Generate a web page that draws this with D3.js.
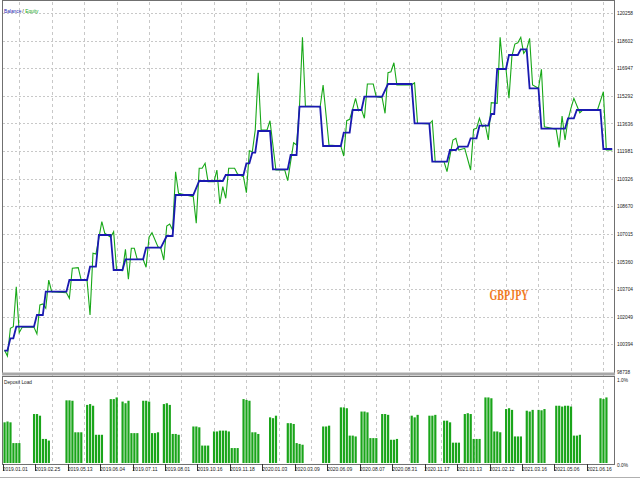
<!DOCTYPE html>
<html>
<head>
<meta charset="utf-8">
<script src="https://cdn.jsdelivr.net/npm/d3@7"></script>
<style>
  body { margin: 0; background: #fff; }
  text { font-family: "Liberation Sans", Arial, sans-serif; }
</style>
</head>
<body>
<div id="plot"></div>
<script>
// y axis labels of the balance / equity panel
const priceTicks = [120258, 118602, 116947, 115292, 113636, 111981, 110326,
  108670, 107015, 105360, 103704, 102049, 100394, 98738];

// date labels, one every 11 bars starting at bar 5
const dateLabels = ["2019.01.01", "2019.02.25", "2019.05.13", "2019.06.04", "2019.07.11",
  "2019.08.01", "2019.10.16", "2019.11.18", "2020.01.03", "2020.03.09", "2020.06.09",
  "2020.08.07", "2020.08.31", "2020.11.17", "2021.01.13", "2021.02.12", "2021.03.16",
  "2021.05.06", "2021.06.16"];
const firstDateBar = 5;
const barsPerDate = 11;

// [bar, balance]
const balance = [[0,100015],[1,100015],[2,100758],[3,100758],[4,101453],[10,101453],
  [11,102155],[13,102155],[14,103551],[21,103551],[22,104252],[28,104252],[29,105050],
  [31,105050],[32,106950],[36,106950],[37,104852],[40,104852],[41,105493],[47,105493],
  [48,106189],[53,106189],[55,106890],[57,106890],[58,109347],[64,109347],[66,110187],
  [74,110187],[75,110546],[81,110546],[82,111248],[83,111248],[84,111883],[85,111883],
  [86,113184],[90,113184],[91,110888],[96,110888],[97,111745],[99,111745],[100,114640],
  [107,114640],[108,112284],[114,112284],[115,113082],[117,113082],[118,114442],
  [121,114442],[122,115240],[128,115240],[130,116001],[138,116001],[139,113645],
  [144,113645],[145,111343],[150,111343],[151,112045],[153,112045],[154,112243],
  [157,112243],[158,112746],[160,112746],[161,113501],[164,113501],[165,114203],
  [166,114203],[167,116900],[170,116900],[171,117739],[174,117739],[175,118081],
  [177,118081],[178,115743],[181,115743],[182,113322],[190,113322],[191,113945],
  [193,113945],[194,114442],[202,114442],[203,112105],[206,112105]];

// [bar, equity]
const equity = [[0,100057],[1,99697],[2,101357],[3,101453],[4,103851],[5,101094],
  [6,101417],[10,101417],[11,101016],[12,102754],[13,102814],[14,102556],[15,104252],
  [16,103551],[21,103491],[22,103156],[23,104954],[25,104990],[26,104252],[28,104211],
  [29,102155],[30,105853],[31,105811],[33,107747],[34,107052],[36,106812],[37,107148],
  [38,104852],[40,104810],[41,106093],[42,104294],[43,106153],[44,106153],[45,105493],
  [47,105493],[48,105014],[49,106812],[50,107088],[52,106249],[53,106153],[54,105451],
  [55,107489],[56,107609],[57,107249],[58,110744],[59,109449],[64,109246],[65,107651],
  [66,110948],[67,110948],[68,111248],[69,110145],[71,110145],[72,110846],[73,108808],
  [74,109845],[75,109150],[76,110948],[78,110948],[79,110606],[81,110444],[82,109485],
  [83,112003],[84,111943],[85,113243],[86,116678],[87,113243],[89,113243],[90,113801],
  [92,110846],[95,110846],[96,110205],[98,112482],[99,112344],[100,114682],[101,118800],
  [102,114682],[107,114640],[108,115941],[110,112344],[114,112284],[115,111685],
  [116,113801],[117,113885],[118,114484],[119,115144],[120,114400],[121,114484],
  [122,113945],[123,116001],[125,116001],[126,115240],[128,115180],[129,114244],
  [130,116678],[131,116738],[132,117278],[133,115941],[138,115941],[139,116079],
  [140,113645],[144,113603],[145,113801],[146,111343],[149,111343],[150,110744],
  [152,112644],[153,112746],[154,112045],[156,112147],[158,110846],[159,113285],
  [160,113345],[161,113945],[162,113441],[163,113543],[164,112644],[165,114880],
  [167,114844],[168,118800],[169,116942],[170,116882],[171,115144],[172,117679],
  [173,118398],[174,118476],[175,118800],[176,117841],[177,118081],[178,118740],
  [179,115941],[181,115743],[182,116882],[183,113441],[187,113285],[188,112206],
  [189,114083],[190,112644],[191,113843],[192,114544],[193,115144],[195,114281],
  [196,114442],[201,114442],[203,115539],[204,112045],[206,112045]];

// [bar, deposit load in %]
const depositLoad = [
  [0,0.49],[1,0.50],[2,0.49],[3,0.24],[4,0.24],[5,0.24],
  [10,0.59],[11,0.59],[12,0.57],[13,0.29],[14,0.29],[15,0.27],
  [21,0.755],[22,0.755],[23,0.75],[24,0.37],[25,0.37],[26,0.37],
  [28,0.70],[29,0.71],[30,0.69],[31,0.34],[32,0.34],[33,0.34],
  [36,0.77],[37,0.77],[38,0.79],[40,0.74],[41,0.72],[42,0.75],[43,0.36],[44,0.36],[45,0.36],
  [47,0.75],[48,0.75],[49,0.74],[50,0.36],[51,0.36],[52,0.37],
  [54,0.71],[55,0.72],[56,0.70],[57,0.35],[58,0.35],[59,0.34],
  [64,0.44],[65,0.44],[66,0.43],[67,0.21],[68,0.21],[69,0.21],
  [71,0.38],[72,0.38],[73,0.39],[74,0.39],[75,0.39],[76,0.38],[77,0.18],[78,0.18],[79,0.18],
  [81,0.77],[82,0.76],[83,0.75],[84,0.37],[85,0.37],[86,0.35],
  [90,0.55],[91,0.54],[92,0.57],
  [96,0.48],[97,0.48],[98,0.47],[99,0.24],[100,0.23],[101,0.22],
  [108,0.44],[109,0.44],[110,0.45],
  [114,0.67],[115,0.67],[116,0.66],[117,0.33],[118,0.33],[119,0.32],
  [121,0.62],[122,0.62],[123,0.61],[124,0.30],[125,0.30],[126,0.30],
  [128,0.59],[129,0.59],[130,0.58],[131,0.28],[132,0.28],[133,0.29],
  [138,0.57],[139,0.55],[140,0.58],
  [144,0.57],[145,0.57],[146,0.58],
  [149,0.51],[150,0.51],[151,0.49],[152,0.245],[153,0.245],[154,0.245],
  [156,0.59],[157,0.60],[158,0.59],[159,0.29],[160,0.29],[161,0.29],
  [163,0.79],[164,0.79],[165,0.78],[166,0.38],[167,0.38],[168,0.37],
  [170,0.65],[171,0.66],[172,0.64],[173,0.32],[174,0.32],[175,0.32],
  [177,0.63],[178,0.62],[179,0.64],
  [181,0.64],[182,0.635],[183,0.65],
  [187,0.69],[188,0.69],[189,0.68],[190,0.69],[191,0.69],[192,0.68],[193,0.33],[194,0.33],[195,0.34],
  [202,0.78],[203,0.77],[204,0.79]];

const W = 640, H = 480;
const left = 3, right = 614;
const mainTop = 13, mainBottom = 372;
const loadTop = 380, loadBottom = 463;

const svg = d3.select("#plot")
  .append("svg")
  .attr("width", W)
  .attr("height", H);

svg.append("rect").attr("width", W).attr("height", H).attr("fill", "#fff");

const x = d3.scaleLinear().domain([-0.5, 206.6]).range([left, right]);
const y = d3.scaleLinear().domain([98738, 120258]).range([mainBottom, mainTop]);
const yLoad = d3.scaleLinear().domain([0, 1]).range([loadBottom, loadTop]);

const dateBars = dateLabels.map((d, i) => firstDateBar + i * barsPerDate);

// grid
const grid = svg.append("g").attr("stroke", "#c8c8c8").attr("stroke-width", 1);
grid.selectAll(".hgrid")
  .data(priceTicks.slice(0, -1))
  .enter().append("line")
  .attr("x1", left).attr("x2", right)
  .attr("y1", d => Math.round(y(d)) + 0.5).attr("y2", d => Math.round(y(d)) + 0.5)
  .attr("stroke-dasharray", "2,2");
grid.selectAll(".vgrid")
  .data(dateBars)
  .enter().append("line")
  .attr("x1", d => Math.round(x(d)) + 0.5).attr("x2", d => Math.round(x(d)) + 0.5)
  .attr("y1", 2).attr("y2", loadBottom)
  .attr("stroke-dasharray", "3,3");

// deposit load bars
svg.append("g").selectAll("rect")
  .data(depositLoad)
  .enter().append("rect")
  .attr("x", d => x(d[0]) - 1)
  .attr("width", 2.2)
  .attr("y", d => yLoad(d[1]))
  .attr("height", d => loadBottom - yLoad(d[1]))
  .attr("fill", "#1aa51a");

// balance and equity
const line = d3.line().x(d => x(d[0])).y(d => y(d[1]));

svg.append("path")
  .datum(equity)
  .attr("d", line)
  .attr("fill", "none")
  .attr("stroke", "#18a818")
  .attr("stroke-width", 1.1);

svg.append("path")
  .datum(balance)
  .attr("d", line)
  .attr("fill", "none")
  .attr("stroke", "#1a1ab0")
  .attr("stroke-width", 1.8);

// frames
const frame = svg.append("g").attr("fill", "none").attr("stroke", "#707070");
frame.append("rect").attr("x", 2.5).attr("y", 0.5).attr("width", right - 2).attr("height", mainBottom + 1);
frame.append("rect").attr("x", 2.5).attr("y", 376.5).attr("width", right - 2).attr("height", loadBottom - 376 + 1);
svg.append("rect").attr("x", 2).attr("y", 372.5).attr("width", right - 1).attr("height", 3).attr("fill", "#a8a8a8");
svg.append("line").attr("x1", 0).attr("x2", W).attr("y1", 477.5).attr("y2", 477.5)
  .attr("stroke", "#b0b0b0");

// right axis labels
svg.append("g").selectAll("text")
  .data(priceTicks)
  .enter().append("text")
  .attr("x", 617)
  .attr("y", d => y(d))
  .attr("dy", "0.35em")
  .attr("font-size", 6)
  .attr("textLength", d => String(d).length === 6 ? 16 : 13)
  .attr("lengthAdjust", "spacingAndGlyphs")
  .attr("fill", "#222")
  .text(d => d);

svg.selectAll(".loadlab")
  .data([1, 0])
  .enter().append("text")
  .attr("x", 617)
  .attr("y", d => yLoad(d) + (d === 0 ? 2 : 0))
  .attr("dy", "0.35em")
  .attr("font-size", 6)
  .attr("textLength", 11)
  .attr("lengthAdjust", "spacingAndGlyphs")
  .attr("fill", "#222")
  .text(d => d3.format(".1f")(d) + "%");

// date labels with small ticks
const dates = svg.append("g");
dates.selectAll("line")
  .data(dateBars)
  .enter().append("line")
  .attr("x1", d => Math.round(x(d) - 16.5) + 0.5).attr("x2", d => Math.round(x(d) - 16.5) + 0.5)
  .attr("y1", loadBottom + 1).attr("y2", loadBottom + 8)
  .attr("stroke", "#333");
dates.selectAll("text")
  .data(dateLabels)
  .enter().append("text")
  .attr("x", (d, i) => x(dateBars[i]) - 4)
  .attr("y", 471)
  .attr("text-anchor", "middle")
  .attr("font-size", 6)
  .attr("textLength", 25)
  .attr("lengthAdjust", "spacingAndGlyphs")
  .attr("fill", "#222")
  .text(d => d);

// titles
svg.append("text").attr("x", 4).attr("y", 13).attr("font-size", 4.8)
  .attr("fill", "#1a1ab0").text("Balance");
svg.append("text").attr("x", 22.2).attr("y", 13).attr("font-size", 5.5)
  .attr("fill", "#333").text("/");
svg.append("text").attr("x", 25.2).attr("y", 13).attr("font-size", 4.8)
  .attr("fill", "#18a818").text("Equity");

svg.append("text").attr("x", 4).attr("y", 384).attr("font-size", 6)
  .attr("textLength", 28).attr("lengthAdjust", "spacingAndGlyphs")
  .attr("fill", "#222").text("Deposit Load");

svg.append("text")
  .attr("x", 509).attr("y", 300)
  .attr("text-anchor", "middle")
  .attr("font-weight", "bold")
  .attr("font-size", 15)
  .attr("textLength", 39)
  .attr("lengthAdjust", "spacingAndGlyphs")
  .attr("fill", "#f07a1e")
  .style("font-family", "'Liberation Serif', serif")
  .text("GBPJPY");
</script>
</body>
</html>
